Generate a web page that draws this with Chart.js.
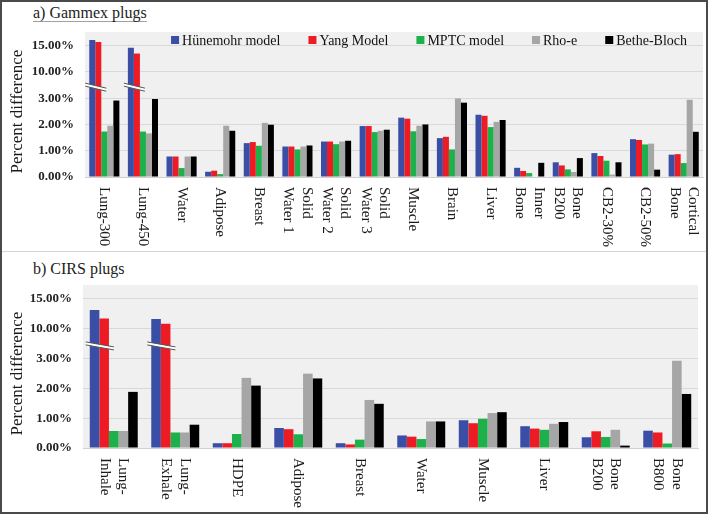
<!DOCTYPE html>
<html>
<head>
<meta charset="utf-8">
<script src="https://cdn.jsdelivr.net/npm/chart.js@4/dist/chart.umd.min.js"></script>
<style>
  html, body { margin: 0; padding: 0; background: #fff; }
  #fig { position: relative; width: 708px; height: 514px; overflow: hidden; font-family: "Liberation Serif", "Times New Roman", serif; }
  #fig canvas { position: absolute; left: 0; }
  .frame { position: absolute; left: 0; top: 0; width: 704px; height: 510px; border: 2px solid #4a4a4a; pointer-events: none; }
  .sep { position: absolute; left: 2px; top: 251px; width: 704px; height: 1px; background: #d4d4d4; }
  .ttl { position: absolute; left: 33px; font-size: 16px; color: #222; }
  #ttl-a { top: 4px; text-decoration: underline; text-decoration-color: #a0a0a0; text-underline-offset: 3px; }
  #ttl-b { top: 260px; }
</style>
</head>
<body>
<div id="fig">
  <div class="ttl" id="ttl-a">a) Gammex plugs</div>
  <div class="ttl" id="ttl-b">b) CIRS plugs</div>
  <canvas id="chart-a" width="708" height="251" style="top:0"></canvas>
  <canvas id="chart-b" width="708" height="262" style="top:252px"></canvas>
  <div class="sep"></div>
  <div class="frame"></div>
</div>

<script>
// ---- Data (percent difference) ----
const SERIES_NAMES = ['Hünemohr model', 'Yang Model', 'MPTC model', 'Rho-e', 'Bethe-Bloch'];
const SERIES_COLORS = ['#3b4ea6', '#ed1c24', '#1db14b', '#a6a6a6', '#000000'];
const Y_TICK_LABELS = ['0.00%', '1.00%', '2.00%', '3.00%', '10.00%', '15.00%'];

// a) Gammex plugs
const gammexCats = [
  ['Lung-300'], ['Lung-450'], ['Water'], ['Adipose'], ['Breast'],
  ['Solid', 'Water 1'], ['Solid', 'Water 2'], ['Solid', 'Water 3'],
  ['Muscle'], ['Brain'], ['Liver'], ['Inner', 'Bone'], ['Bone', 'B200'],
  ['CB2-30%'], ['CB2-50%'], ['Cortical', 'Bone']
];
const gammexHunemohr = [16.1, 14.6, 0.78, 0.20, 1.29, 1.16, 1.35, 1.94, 2.26, 1.48, 2.37, 0.35, 0.56, 0.91, 1.44, 0.85];
const gammexYang     = [15.7, 13.5, 0.78, 0.24, 1.33, 1.16, 1.35, 1.94, 2.22, 1.53, 2.33, 0.23, 0.44, 0.80, 1.41, 0.87];
const gammexMPTC     = [1.73, 1.73, 0.34, 0.11, 1.19, 1.05, 1.25, 1.71, 1.74, 1.05, 1.90, 0.15, 0.29, 0.62, 1.24, 0.53];
const gammexRho      = [1.95, 1.66, 0.78, 1.95, 2.06, 1.16, 1.35, 1.76, 1.95, 2.99, 2.10, 0.02, 0.19, 0.09, 1.27, 2.94];
const gammexBethe    = [2.91, 2.97, 0.78, 1.76, 1.99, 1.20, 1.38, 1.80, 2.00, 2.83, 2.17, 0.54, 0.72, 0.56, 0.28, 1.72];

// b) CIRS plugs
const cirsCats = [
  ['Lung-', 'Inhale'], ['Lung-', 'Exhale'], ['HDPE'], ['Adipose'], ['Breast'],
  ['Water'], ['Muscle'], ['Liver'], ['Bone', 'B200'], ['Bone', 'B800']
];
const cirsHunemohr = [13.1, 11.6, 0.16, 0.67, 0.16, 0.42, 0.93, 0.73, 0.36, 0.58];
const cirsYang     = [11.7, 10.8, 0.16, 0.63, 0.12, 0.38, 0.83, 0.65, 0.56, 0.52];
const cirsMPTC     = [0.57, 0.52, 0.47, 0.46, 0.28, 0.30, 0.98, 0.61, 0.37, 0.15];
const cirsRho      = [0.57, 0.52, 2.35, 2.49, 1.61, 0.89, 1.17, 0.81, 0.61, 2.92];
const cirsBethe    = [1.88, 0.78, 2.09, 2.33, 1.48, 0.89, 1.20, 0.87, 0.08, 1.81];

const FONT = '"Liberation Serif", "Times New Roman", serif';

// Broken axis: 0-3% linear, then 3->10 and 10->15 each take one tick step
const brk = v => v <= 3 ? v : (v <= 10 ? 3 + (v - 3) / 7 : 4 + (v - 10) / 5);
const BREAK_AT = 3.42;

// Plot background, rotated category labels, y title, axis-break marks and legend
const decorPlugin = {
  id: 'decor',
  beforeDraw(chart) {
    const { ctx, chartArea: a } = chart;
    ctx.save();
    ctx.fillStyle = '#f0f0f0';
    ctx.fillRect(a.left, a.top, a.right - a.left, a.bottom - a.top);
    ctx.restore();
  },
  afterDatasetsDraw(chart) {
    const { ctx } = chart;
    const y = chart.scales.y;
    const m0 = chart.getDatasetMeta(0), m1 = chart.getDatasetMeta(1);
    ctx.save();
    m0.data.forEach((bar, i) => {
      if (chart.data.datasets[0].data[i] <= 3) return;
      const b1 = m1.data[i];
      const x0 = bar.x - bar.width / 2 - 4;
      const x1 = b1.x + b1.width / 2 + 5;
      const yc = y.getPixelForValue(BREAK_AT);
      const drop = 5, gap = 3;
      ctx.beginPath();
      ctx.moveTo(x0, yc - gap / 2 - drop / 2);
      ctx.lineTo(x1, yc - gap / 2 + drop / 2);
      ctx.lineTo(x1, yc + gap / 2 + drop / 2);
      ctx.lineTo(x0, yc + gap / 2 - drop / 2);
      ctx.closePath();
      ctx.fillStyle = '#ffffff';
      ctx.fill();
      ctx.strokeStyle = '#555';
      ctx.lineWidth = 1;
      ctx.beginPath();
      ctx.moveTo(x0, yc - gap / 2 - drop / 2); ctx.lineTo(x1, yc - gap / 2 + drop / 2);
      ctx.moveTo(x0, yc + gap / 2 - drop / 2); ctx.lineTo(x1, yc + gap / 2 + drop / 2);
      ctx.stroke();
    });
    ctx.restore();
  },
  afterDraw(chart, args, opts) {
    const { ctx, chartArea: a } = chart;
    const x = chart.scales.x;
    ctx.save();
    ctx.fillStyle = '#1a1a1a';

    // category labels, rotated clockwise (read top to bottom)
    ctx.font = '15px ' + FONT;
    ctx.textAlign = 'left';
    ctx.textBaseline = 'middle';
    const lh = 18.5;
    chart.data.labels.forEach((lines, i) => {
      const cx = x.getPixelForTick(i);
      lines.forEach((txt, j) => {
        const off = (j - (lines.length - 1) / 2) * lh;
        ctx.save();
        ctx.translate(cx - off, a.bottom + opts.labelGap);
        ctx.rotate(Math.PI / 2);
        ctx.fillText(txt, 0, 0);
        ctx.restore();
      });
    });

    // y axis title
    ctx.font = '17px ' + FONT;
    ctx.textAlign = 'center';
    ctx.save();
    ctx.translate(18, (a.top + a.bottom) / 2 + 7);
    ctx.rotate(-Math.PI / 2);
    ctx.fillText('Percent difference', 0, 0);
    ctx.restore();

    // legend inside the plot area
    if (opts.legend) {
      ctx.font = '14px ' + FONT;
      ctx.textAlign = 'left';
      const box = 8, pad = 3, spacing = 28;
      const items = chart.data.datasets.map(d => ({ label: d.label, color: d.backgroundColor, w: ctx.measureText(d.label).width }));
      const total = items.reduce((s, it) => s + box + pad + it.w, 0) + spacing * (items.length - 1);
      let lx = a.right - 16 - total;
      const ly = a.top + 8;
      items.forEach(it => {
        ctx.fillStyle = it.color;
        ctx.fillRect(lx, ly - box / 2, box, box);
        ctx.fillStyle = '#111';
        ctx.fillText(it.label, lx + box + pad, ly + 1);
        lx += box + pad + it.w + spacing;
      });
    }
    ctx.restore();
  }
};

function makeDatasets(seriesList) {
  return seriesList.map((vals, i) => ({
    label: SERIES_NAMES[i],
    data: vals.map(brk),
    backgroundColor: SERIES_COLORS[i],
    borderWidth: 0,
    categoryPercentage: 0.78,
    barPercentage: 1
  }));
}

function renderPanel(canvasId, labels, seriesList, box) {
  const canvas = document.getElementById(canvasId);
  return new Chart(canvas, {
    type: 'bar',
    data: { labels, datasets: makeDatasets(seriesList) },
    plugins: [decorPlugin],
    options: {
      responsive: false,
      animation: false,
      events: [],
      layout: { padding: { left: 0, top: box.top, right: canvas.width - box.right, bottom: 0 } },
      plugins: {
        legend: { display: false },
        tooltip: { enabled: false },
        decor: { legend: box.legend, labelGap: 10 }
      },
      scales: {
        x: {
          ticks: { display: false },
          grid: { display: false },
          border: { display: true, color: '#d0d0d0', width: 1 },
          afterFit: s => { s.height = canvas.height - box.bottom; }
        },
        y: {
          min: 0,
          max: box.max,
          afterFit: s => { s.width = box.left; },
          border: { display: false },
          grid: { color: '#d9d9d9', lineWidth: 1, drawTicks: false },
          ticks: {
            stepSize: 1,
            includeBounds: false,
            padding: 11,
            color: '#222',
            font: { family: FONT, size: 13, weight: 'bold' },
            callback: v => Number.isInteger(v) ? Y_TICK_LABELS[v] : ''
          }
        }
      }
    }
  });
}

renderPanel('chart-a', gammexCats,
  [gammexHunemohr, gammexYang, gammexMPTC, gammexRho, gammexBethe],
  { left: 85, right: 703, top: 32, bottom: 177, max: 5.52, legend: true });

renderPanel('chart-b', cirsCats,
  [cirsHunemohr, cirsYang, cirsMPTC, cirsRho, cirsBethe],
  { left: 83, right: 698, top: 33, bottom: 196, max: 5.46, legend: false });
</script>
</body>
</html>
